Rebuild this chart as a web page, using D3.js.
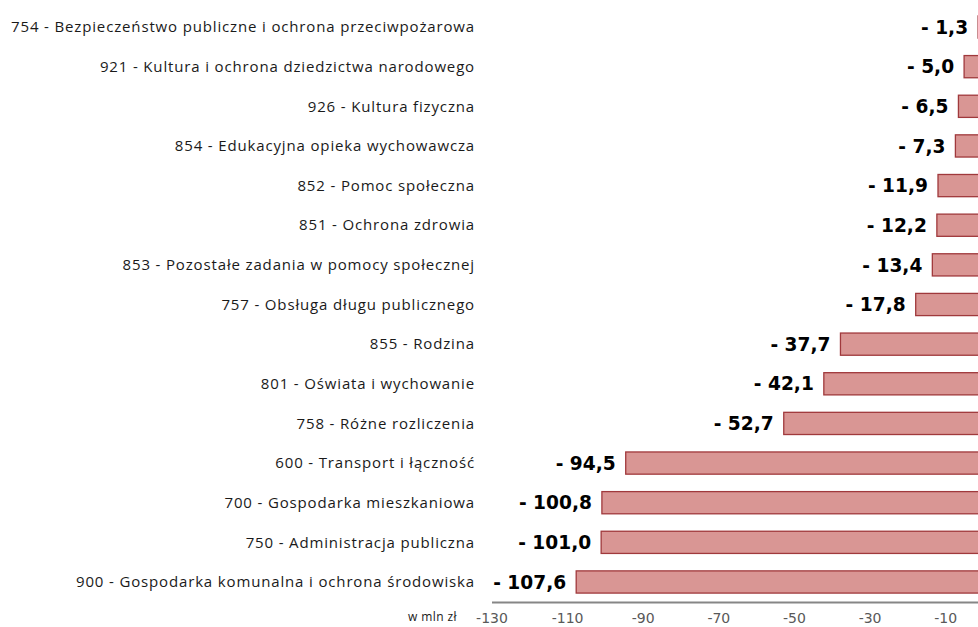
<!DOCTYPE html>
<html>
<head>
<meta charset="utf-8">
<script src="https://cdn.jsdelivr.net/npm/d3@7"></script>
<style>
  body { margin: 0; background: #fff; }
  svg { display: block; }
</style>
</head>
<body>
<div id="chart"></div>
<script>
///////////////////////////////////////////////
// Data ///////////////////////////////////////
///////////////////////////////////////////////

var categories = [
  "754 - Bezpieczeństwo publiczne i ochrona przeciwpożarowa",
  "921 - Kultura i ochrona dziedzictwa narodowego",
  "926 - Kultura fizyczna",
  "854 - Edukacyjna opieka wychowawcza",
  "852 - Pomoc społeczna",
  "851 - Ochrona zdrowia",
  "853 - Pozostałe zadania w pomocy społecznej",
  "757 - Obsługa długu publicznego",
  "855 - Rodzina",
  "801 - Oświata i wychowanie",
  "758 - Różne rozliczenia",
  "600 - Transport i łączność",
  "700 - Gospodarka mieszkaniowa",
  "750 - Administracja publiczna",
  "900 - Gospodarka komunalna i ochrona środowiska"
];

var values = [-1.3, -5.0, -6.5, -7.3, -11.9, -12.2, -13.4, -17.8, -37.7, -42.1, -52.7, -94.5, -100.8, -101.0, -107.6];

var tickValues = [-130, -110, -90, -70, -50, -30, -10];
var unitLabel = "w mln zł";

var data = categories.map(function(c, i) { return { name: c, value: values[i] }; });

///////////////////////////////////////////////
// Graph parameters ///////////////////////////
///////////////////////////////////////////////

var width = 978, height = 627;
var fillColor = "#d99694", strokeColor = "#a0393c";

var pl = d3.formatLocale({ decimal: ",", thousands: " ", grouping: [3], currency: ["", " zł"] });
var fmt = pl.format(".1f");

var svg = d3.select("#chart").append("svg")
    .attr("width", width)
    .attr("height", height);

///////////////////////////////////////////////
// Scales /////////////////////////////////////
///////////////////////////////////////////////

var x = d3.scaleLinear()
    .domain([-130, 0])
    .range([491.5, 983]);

var y = d3.scaleBand()
    .domain(categories)
    .range([7.2, 601.8])
    .paddingInner(0.44)
    .paddingOuter(0.22);

///////////////////////////////////////////////
// Bars ///////////////////////////////////////
///////////////////////////////////////////////

svg.append("g").selectAll("rect")
    .data(data)
    .enter().append("rect")
    .attr("x", function(d) { return x(d.value); })
    .attr("y", function(d) { return y(d.name); })
    .attr("width", function(d) { return x(0) - x(d.value); })
    .attr("height", y.bandwidth())
    .attr("fill", fillColor)
    .attr("stroke", strokeColor)
    .attr("stroke-width", 1.3);

// value labels
svg.append("g").selectAll("text")
    .data(data)
    .enter().append("text")
    .attr("x", function(d) { return x(d.value) - 10; })
    .attr("y", function(d) { return y(d.name) + y.bandwidth() / 2; })
    .attr("dy", "0.36em")
    .attr("text-anchor", "end")
    .style("font", "bold 18.6px 'DejaVu Sans', Verdana, sans-serif")
    .style("fill", "#000")
    .text(function(d) { return "- " + fmt(Math.abs(d.value)); });

// category labels
svg.append("g").selectAll("text")
    .data(data)
    .enter().append("text")
    .attr("x", 475)
    .attr("y", function(d) { return y(d.name) + y.bandwidth() / 2; })
    .attr("dy", "0.35em")
    .attr("text-anchor", "end")
    .style("font", "15px 'Open Sans', sans-serif")
    .style("letter-spacing", "0.85px")
    .style("fill", "#1a1a1a")
    .text(function(d) { return d.name; });

///////////////////////////////////////////////
// Axis ///////////////////////////////////////
///////////////////////////////////////////////

var xAxis = d3.axisBottom(x)
    .tickValues(tickValues)
    .tickSize(0)
    .tickPadding(11)
    .tickFormat(function(d) { return d; });

var ax = svg.append("g")
    .attr("transform", "translate(0," + 602 + ")")
    .call(xAxis);

ax.select(".domain")
    .attr("stroke", "#868686")
    .attr("stroke-width", 2);

ax.selectAll(".tick text")
    .style("font", "14px 'DejaVu Sans', Verdana, sans-serif")
    .style("fill", "#595959");

svg.append("text")
    .attr("x", 457)
    .attr("y", 621)
    .attr("text-anchor", "end")
    .style("font", "12px 'Open Sans', sans-serif")
    .style("letter-spacing", "0.4px")
    .style("fill", "#1a1a1a")
    .text(unitLabel);
</script>
</body>
</html>
